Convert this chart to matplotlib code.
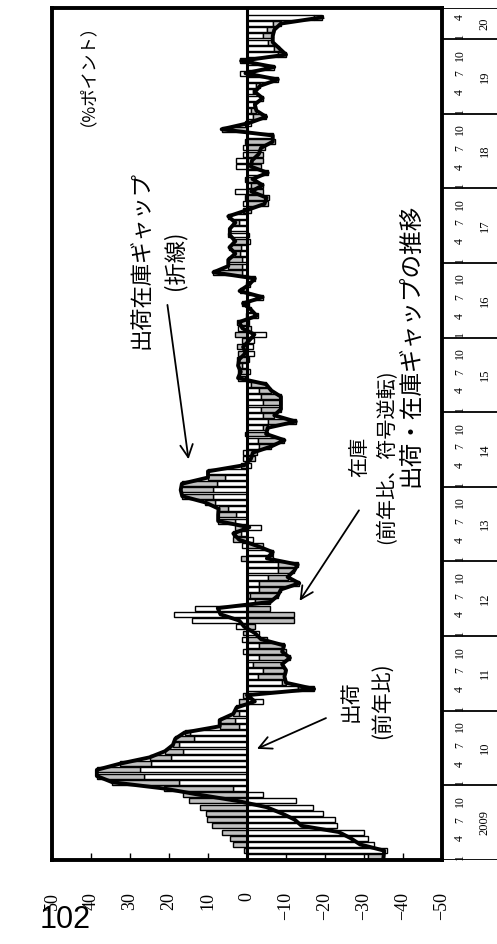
import numpy as np
import matplotlib.pyplot as plt

plt.rcParams['font.family'] = ['Noto Sans CJK JP', 'DejaVu Sans']

# 出荷（前年比, %）2009年1月～2020年4月
shipments = [
    -31, -36, -32.5, -31, -30, -23, -22.5, -19.5, -17, -12.5, -4, 3.5,
    17.5, 26.5, 27.5, 24.5, 19.5, 16.5, 17.5, 13.7, 14.5, 2, 3, 2,
    2.7, -4, -1, -13, -9, -2.8, -4, -1.5, -3, 1, -3, 1.4,
    -3, 2.7, 14, 18.8, 13.3, -2, -0.7, -3.2, -3.2, -5.3, -7.9, -7.9,
    -6.6, -6.6, 1.4, -1.5, 1.5, -3.6, 3, 2.7, 4.8, 8.2, 8.6, 8.6,
    7.8, 5.7, 10, -1, 1, 1, -3.2, -2.8, 0.6, -4, -5.3, -4,
    -3.6, -4, -3.6, -3.2, -1.1, 0.5, -0.7, 1.4, -0.5, -1.9, -1.5, -1.9,
    -4.9, 2.3, -0.5, -2.8, -1.1, 1.4, -4, 1.9, -0.7, -2, 1.4, 1.4,
    1.4, 1.7, 1.6, -0.7, 4.8, 4.4, 2, 4.8, 1, 1, 0.6, 3.1,
    -1, 0.6, -5.3, 2.7, 2.7, 1, 1, 0.6, -6.6, 0, -1, -1.5,
    -1, -1.7, -4, -1.5, -2.4, -7.9, 1.9, -7, 1.9, -8, -7, -5.3,
    -4, -5, -6.6, -17.2,
]
# 在庫（前年比, %）
inventory = [
    4, -0.8, -3.5, -4.4, -6.5, -9, -10.3, -10.6, -12, -15, -16.3, -17.8,
    -17, -12, -11, -8, -5.5, -4.5, -1.5, -4.7, -1.5, -5, -4, -1.5,
    0, -2, -1, 4.2, 1, 6.8, 6, 7.5, 8, 10, 6.5, 5,
    -1, 2, 12, 12, 5.8, 4, 7.2, 5.5, 10.2, 5.1, 4.2, 5.1,
    -1.5, 0, 4, -3.5, -2, -3, -4.4, -4.7, -2.5, -2.5, -8, -8.4,
    -8.9, -4.3, 0, -1.6, 2, 2.5, 3, 6.8, 5.5, 1.3, 7.2, 3,
    5.1, 4.7, 5.1, 3, 3.8, -1.8, -2.3, -0.9, -2.5, -2.3, -2.5, -1.4,
    -3, 1.1, -2.5, -0.3, -0.1, 0.4, 0, 0, -0.2, 0, -7.2, -3.4,
    -3.4, -1.3, -2.9, -3.7, 0.4, 0, -1, 0, 1, 5.5, 5.6, 4.2,
    3, 2, 0, 3.7, 4, 4, 4.6, 7.2, 0, -6.5, -0.5, 3.4,
    1.4, 0.3, 0, 0.5, 1, 0, 1.5, 0, 0.4, 2, 1.3, 1.3,
    2.6, 2, 2.1, 2.1,
]
years = ['2009', '10', '11', '12', '13', '14', '15', '16', '17', '18', '19', '20']
months = [1, 4, 7, 10]
value_ticks = list(range(-50, 51, 10))

ship = np.array(shipments)
inv_rev = -np.array(inventory)          # 符号逆転
gap = ship + inv_rev                     # 出荷在庫ギャップ
inv_left = np.where(np.sign(inv_rev) == np.sign(ship), ship, 0)
pos = np.arange(len(ship)) + 0.5
top = len(ship) + 1

W, H = 497, 944
fig = plt.figure(figsize=(W / 100, H / 100), dpi=100)
ax_l, ax_r, ax_t, ax_b = 52, 442, 8, 860
ax = fig.add_axes([ax_l / W, 1 - ax_b / H, (ax_r - ax_l) / W, (ax_b - ax_t) / H])

ax.barh(pos, ship, height=0.8, color='white', edgecolor='black', linewidth=1)
ax.barh(pos, inv_rev, left=inv_left, height=0.8, color='#c0c0c0',
        edgecolor='black', linewidth=1)
ax.plot(gap, pos, color='black', linewidth=2.8, zorder=4)
ax.axvline(0, color='black', linewidth=2.2, zorder=5)

ax.set_xlim(50, -50)
ax.set_ylim(0, top)
ax.set_xticks(value_ticks)
ax.set_xticklabels([str(v).replace('-', '\u2212') for v in value_ticks],
                   rotation=90, fontfamily='Liberation Serif', fontsize=13)
ax.tick_params(axis='x', direction='in', length=5, width=1, pad=23)
ax.set_yticks([])
for s in ax.spines.values():
    s.set_linewidth(2.8)

# 右側の年月軸
ax2 = fig.add_axes([ax_r / W, 1 - ax_b / H, (W - ax_r) / W, (ax_b - ax_t) / H], sharey=ax)
ax2.set_xlim(0, 1)
ax2.axis('off')
bounds = [12 * k for k in range(len(years))] + [top]
ax2.hlines(bounds, 0, 1, color='black', linewidth=1.3)
for k, yr in enumerate(years):
    for m in months:
        idx = 12 * k + m - 1
        if idx < len(ship):
            ax2.text(0.33, idx + 0.5, str(m), rotation=90, ha='center', va='center',
                     fontsize=8.5, fontfamily='Liberation Serif')
    end = min(12 * (k + 1), top)
    ax2.text(0.78, (12 * k + end) / 2, yr, rotation=90, ha='center', va='center',
             fontsize=9, fontfamily='Liberation Serif')

# 注記
arrow = dict(arrowstyle='->,head_length=0.9,head_width=0.45', lw=1.3)
ax.text(22.8, 96.5, '出荷在庫ギャップ\n(折線)', rotation=90, ha='center', va='center',
        fontsize=16, linespacing=1.5, multialignment='center')
ax.annotate('', xy=(14.9, 64.0), xytext=(20.5, 89.7), arrowprops=arrow)
ax.text(-32.4, 64.8, '在庫\n(前年比、符号逆転)', rotation=90, ha='center', va='center',
        fontsize=14.5, linespacing=1.4, multialignment='center')
ax.annotate('', xy=(-13.1, 41.3), xytext=(-29.1, 56.6), arrowprops=arrow)
ax.text(-30.6, 25.6, '出荷\n(前年比)', rotation=90, ha='center', va='center',
        fontsize=15, linespacing=1.5, multialignment='center')
ax.annotate('', xy=(-1.9, 17.7), xytext=(-20.9, 23.0), arrowprops=arrow)

fig.text(411 / W, 1 - 345 / H, '出荷・在庫ギャップの推移', rotation=90,
         ha='center', va='center', fontsize=17)
fig.text(78 / W, 1 - 66 / H, '（%ポイント）', rotation=90, ha='center', va='center',
         fontsize=12.5)
fig.text(40 / W, 1 - 928 / H, '102', fontsize=22, fontfamily='Liberation Sans',
         ha='left', va='baseline')

fig.savefig('out.png', dpi=100)
